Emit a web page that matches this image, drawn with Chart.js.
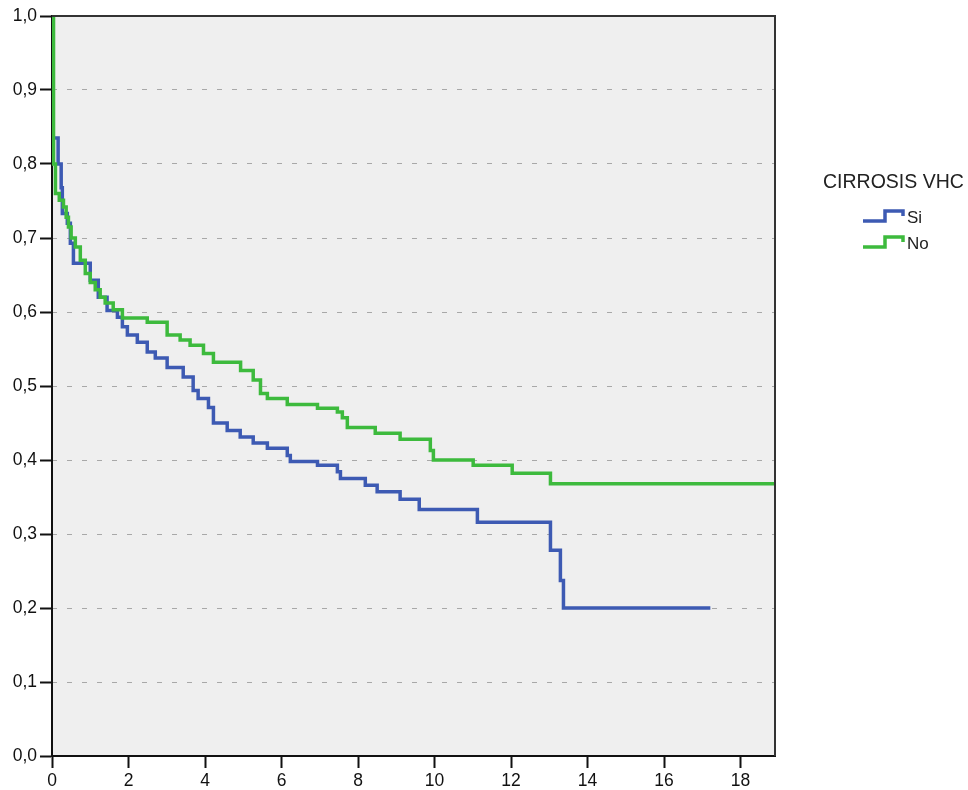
<!DOCTYPE html>
<html><head><meta charset="utf-8">
<script src="https://cdn.jsdelivr.net/npm/chart.js@4.4.1/dist/chart.umd.min.js"></script>
<style>html,body{margin:0;padding:0;background:#fff;}#wrap{width:968px;height:790px;position:relative;}canvas{display:block;}</style>
</head><body><div id="wrap"><canvas id="c" width="968" height="790" style="width:968px;height:790px"></canvas></div>
<script>
// ---- data ----
const xTicks = [0, 2, 4, 6, 8, 10, 12, 14, 16, 18];
const yTicks = [0, 0.1, 0.2, 0.3, 0.4, 0.5, 0.6, 0.7, 0.8, 0.9, 1.0];
const legendTitle = 'CIRROSIS VHC';
const seriesLabels = ['Si', 'No'];

const siTime = [0, 0.01, 0.16, 0.24, 0.27, 0.40, 0.48, 0.56, 1.00, 1.21, 1.44, 1.71, 1.84, 1.97, 2.23, 2.49, 2.70, 3.01, 3.43, 3.69, 3.82, 4.09, 4.22, 4.58, 4.92, 5.26, 5.63, 6.15, 6.23, 6.94, 7.46, 7.54, 8.19, 8.50, 9.10, 9.60, 11.12, 13.03, 13.29, 13.37, 17.21];
const siSurv = [1.0, 0.835, 0.80, 0.768, 0.733, 0.72, 0.693, 0.666, 0.643, 0.62, 0.602, 0.593, 0.58, 0.569, 0.559, 0.546, 0.538, 0.525, 0.512, 0.494, 0.483, 0.471, 0.45, 0.44, 0.431, 0.423, 0.416, 0.406, 0.398, 0.393, 0.384, 0.375, 0.366, 0.357, 0.347, 0.333, 0.316, 0.278, 0.237, 0.200, 0.200];

const noTime = [0, 0.04, 0.09, 0.19, 0.30, 0.37, 0.43, 0.50, 0.61, 0.74, 0.87, 1.00, 1.13, 1.26, 1.39, 1.60, 1.84, 2.49, 3.01, 3.35, 3.61, 3.96, 4.22, 4.93, 5.26, 5.45, 5.63, 6.15, 6.94, 7.46, 7.59, 7.72, 8.45, 9.10, 9.89, 9.97, 11.01, 12.03, 13.03, 18.9];
const noSurv = [1.0, 0.80, 0.76, 0.751, 0.742, 0.728, 0.715, 0.70, 0.688, 0.67, 0.652, 0.64, 0.63, 0.62, 0.612, 0.603, 0.592, 0.586, 0.569, 0.562, 0.555, 0.544, 0.532, 0.521, 0.508, 0.49, 0.483, 0.475, 0.47, 0.465, 0.457, 0.444, 0.436, 0.428, 0.413, 0.40, 0.393, 0.382, 0.368, 0.368];

const BLUE = '#3d5ab3';
const GREEN = '#3dba3d';
const FONT = '"Liberation Sans", Arial, sans-serif';

const toPts = (ts, vs) => ts.map((t, i) => ({x: t, y: vs[i]}));

const bgPlugin = {
  id: 'bg',
  beforeDraw(chart) {
    const {ctx, chartArea: a} = chart;
    ctx.save();
    ctx.fillStyle = '#efefef';
    ctx.fillRect(a.left, a.top, a.right - a.left, a.bottom - a.top);
    ctx.restore();
  },
  afterDatasetsDraw(chart) {
    const {ctx, chartArea: a} = chart;
    ctx.save();
    ctx.strokeStyle = '#333';
    ctx.lineWidth = 2;
    ctx.beginPath();
    ctx.moveTo(a.left, a.top);
    ctx.lineTo(a.right, a.top);
    ctx.lineTo(a.right, a.bottom);
    ctx.stroke();
    ctx.restore();
  }
};

const legendPlugin = {
  id: 'kmLegend',
  afterDraw(chart) {
    const ctx = chart.ctx;
    ctx.save();
    ctx.fillStyle = '#222';
    ctx.textBaseline = 'middle';
    ctx.textAlign = 'left';
    ctx.font = '19.5px ' + FONT;
    ctx.fillText(legendTitle, 823, 183);
    const colors = [BLUE, GREEN];
    seriesLabels.forEach((lab, i) => {
      const y = 221 + i * 26;
      ctx.strokeStyle = colors[i];
      ctx.lineWidth = 3.5;
      ctx.lineJoin = 'miter';
      ctx.beginPath();
      ctx.moveTo(863, y);
      ctx.lineTo(885, y);
      ctx.lineTo(885, y - 10);
      ctx.lineTo(903, y - 10);
      ctx.lineTo(903, y - 5);
      ctx.stroke();
      ctx.font = '17px ' + FONT;
      ctx.fillStyle = '#222';
      ctx.fillText(lab, 907, y - 3);
    });
    ctx.restore();
  }
};

new Chart(document.getElementById('c'), {
  type: 'line',
  data: {
    datasets: [
      {label: seriesLabels[0], data: toPts(siTime, siSurv), borderColor: BLUE, borderWidth: 3.5, stepped: 'before', pointRadius: 0, fill: false, order: 1},
      {label: seriesLabels[1], data: toPts(noTime, noSurv), borderColor: GREEN, borderWidth: 3.5, stepped: 'before', pointRadius: 0, fill: false, order: 0}
    ]
  },
  options: {
    responsive: false,
    animation: false,
    devicePixelRatio: 1,
    layout: {padding: {top: 16, right: 193, left: 0, bottom: 0}},
    plugins: {legend: {display: false}, tooltip: {enabled: false}},
    scales: {
      x: {
        type: 'linear', min: 0, max: 18.9,
        afterBuildTicks: s => { s.ticks = xTicks.map(v => ({value: v})); },
        afterFit: s => { s.height = 34; },
        ticks: {font: {family: FONT, size: 17.5}, color: '#111', padding: 3, maxRotation: 0, autoSkip: false, callback: v => String(v)},
        grid: {drawOnChartArea: false, drawTicks: true, tickLength: 12, tickColor: '#111', tickWidth: 2},
        border: {color: '#111', width: 2}
      },
      y: {
        type: 'linear', min: 0, max: 1,
        afterBuildTicks: s => { s.ticks = yTicks.map(v => ({value: v})); },
        afterFit: s => { s.width = 52; },
        ticks: {font: {family: FONT, size: 17.5}, color: '#111', padding: 3, autoSkip: false, callback: v => Number(v).toFixed(1).replace('.', ',')},
        grid: {
          color: c => (c.tick && c.tick.value > 0.001 && c.tick.value < 0.999) ? '#a8a8a8' : 'rgba(0,0,0,0)',
          lineWidth: 1, drawTicks: true, tickLength: 12, tickColor: '#111', tickWidth: 2, tickBorderDash: []
        },
        border: {color: '#111', width: 2, dash: [5, 10], dashOffset: 1}
      }
    }
  },
  plugins: [bgPlugin, legendPlugin]
});
</script>
</body></html>
